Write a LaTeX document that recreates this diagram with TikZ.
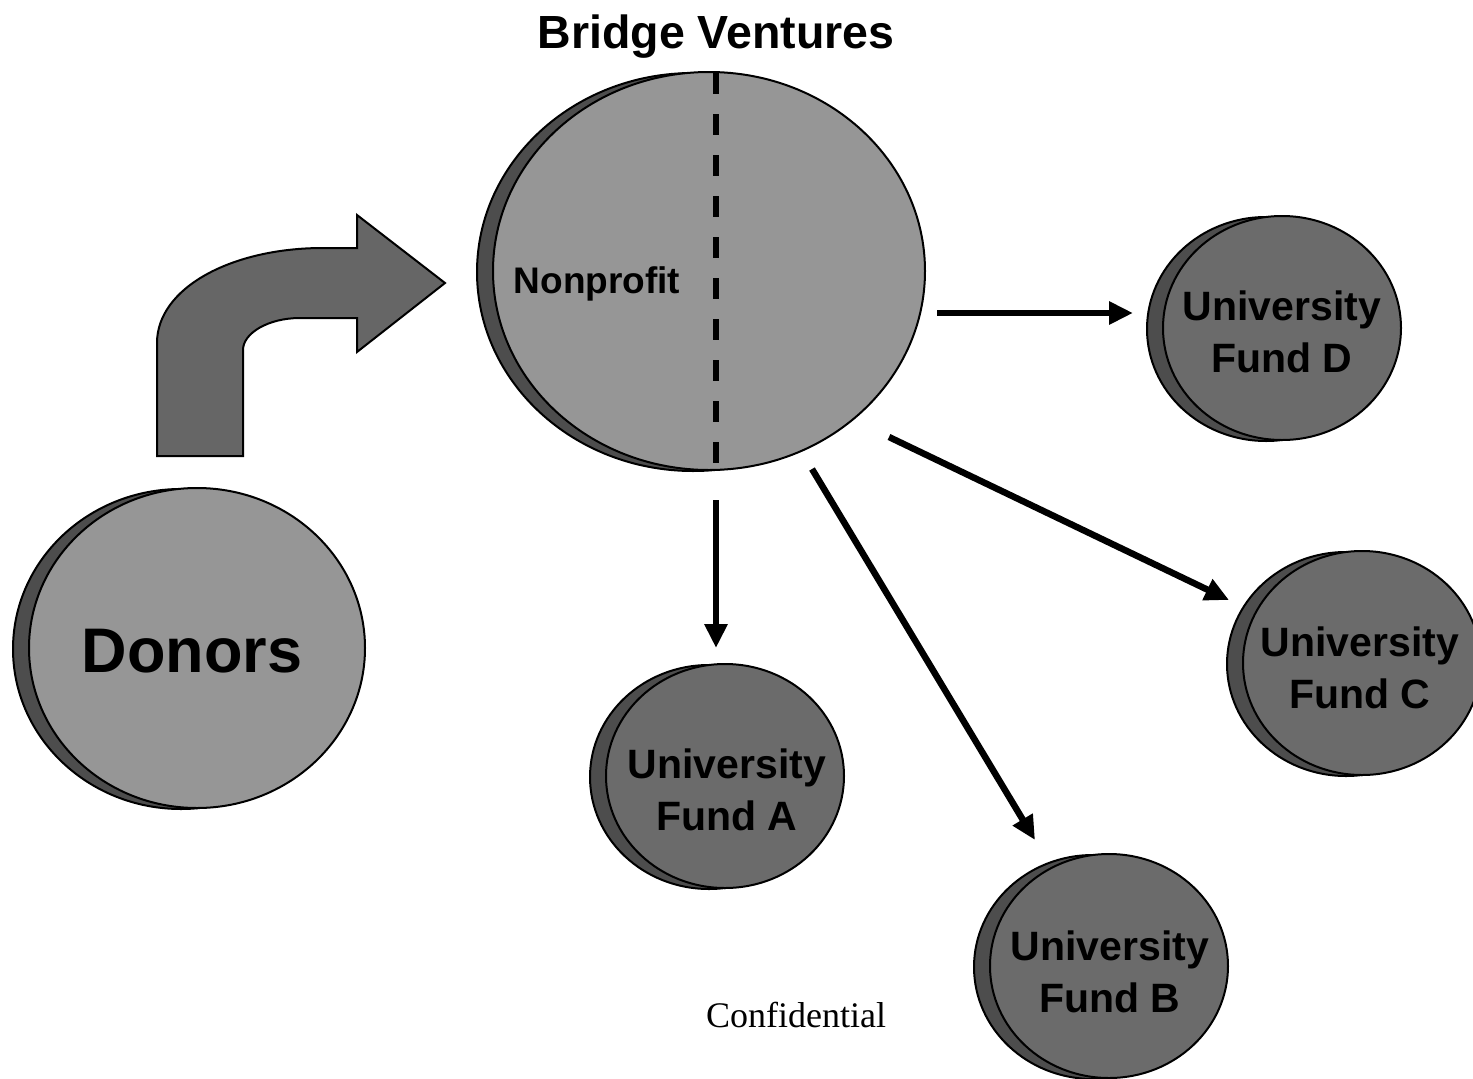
\documentclass[tikz,border=0pt]{standalone}
\usepackage{fontspec}
\setmainfont{Liberation Sans}
\newfontfamily\conffont{Liberation Serif}
\usetikzlibrary{shapes.geometric,arrows.meta}
\definecolor{lightdisc}{RGB}{150,150,150}
\definecolor{funddisc}{RGB}{107,107,107}
\definecolor{discshade}{RGB}{77,77,77}
\definecolor{bentfill}{RGB}{102,102,102}
\begin{document}
\begin{tikzpicture}[x=1pt,y=-1pt,
  discfront/.style={ellipse,draw=black,line width=2pt,inner sep=0pt},
  discback/.style={ellipse,draw=black,line width=2pt,fill=discshade,inner sep=0pt},
  fundsize/.style={minimum width=238pt,minimum height=224pt},
  fundlabel/.style={align=center,font=\bfseries\fontsize{41}{52}\selectfont,inner sep=0pt},
  flow/.style={line width=6.5pt,-{Triangle[length=24pt,width=22pt]}},
  divider/.style={line width=6pt,dash pattern=on 21pt off 20pt},
  bentarrow/.style={draw=black,line width=2pt,fill=bentfill,line join=miter}]
\useasboundingbox (0,0) rectangle (1473,1079);
\fill[white] (0,0) rectangle (1473,1079);

% title
\node[anchor=base,font=\bfseries\fontsize{46.5}{50}\selectfont,inner sep=0pt] (title) at (716,48) {Bridge Ventures};

% Bridge disc
\node[discback,minimum width=432pt,minimum height=398pt] (bridgeback) at (693,272) {};
\node[discfront,fill=lightdisc,minimum width=432pt,minimum height=398pt] (bridge) at (709,271) {};
\coordinate (dtop) at (716,73);
\coordinate (dbot) at (716,463);
\draw[divider] (dtop) -- (dbot);
\node[anchor=base,font=\bfseries\fontsize{37}{40}\selectfont,inner sep=0pt] (nonprofit) at (597,293) {Nonprofit};

% Donors disc
\node[discback,minimum width=336pt,minimum height=320pt] (donorsback) at (181,649) {};
\node[discfront,fill=lightdisc,minimum width=336pt,minimum height=320pt] (donors) at (197,648) {};
\node[anchor=base,font=\bfseries\fontsize{63}{66}\selectfont,inner sep=0pt] (donorslabel) at (192,672) {Donors};

% bent arrow
\draw[bentarrow] (157,456) -- (157,343)
  .. controls (157,288) and (231.3,248) .. (323,248)
  -- (357,248) -- (357,215) -- (445,283) -- (357,352) -- (357,318) -- (300,318)
  .. controls (268.5,318) and (243,333) .. (243,350)
  -- (243,456) -- cycle;

% University funds
\node[discback,fundsize] (fundAback) at (709,777) {};
\node[discfront,fill=funddisc,fundsize] (fundA) at (725,776) {};
\node[fundlabel] (fundAlabel) at (727,790) {University\\Fund A};

\node[discback,fundsize] (fundBback) at (1093,967) {};
\node[discfront,fill=funddisc,fundsize] (fundB) at (1109,966) {};
\node[fundlabel] (fundBlabel) at (1110,972) {University\\Fund B};

\node[discback,fundsize] (fundCback) at (1346,664) {};
\node[discfront,fill=funddisc,fundsize] (fundC) at (1362,663) {};
\node[fundlabel] (fundClabel) at (1360,668) {University\\Fund C};

\node[discback,fundsize] (fundDback) at (1266,329) {};
\node[discfront,fill=funddisc,fundsize] (fundD) at (1282,328) {};
\node[fundlabel] (fundDlabel) at (1282,332) {University\\Fund D};

% flows
\coordinate (aS) at (716,500);  \coordinate (aE) at (716,648);
\coordinate (bS) at (812,469);  \coordinate (bE) at (1035,840);
\coordinate (cS) at (889,437);  \coordinate (cE) at (1229,600);
\coordinate (dS) at (937,313);  \coordinate (dE) at (1133,313);
\draw[flow] (aS) -- (aE);
\draw[flow] (bS) -- (bE);
\draw[flow] (cS) -- (cE);
\draw[flow] (dS) -- (dE);

% footer
\node[anchor=base,font=\conffont\fontsize{36}{40}\selectfont,inner sep=0pt] (conf) at (796,1027) {Confidential};
\end{tikzpicture}
\end{document}
